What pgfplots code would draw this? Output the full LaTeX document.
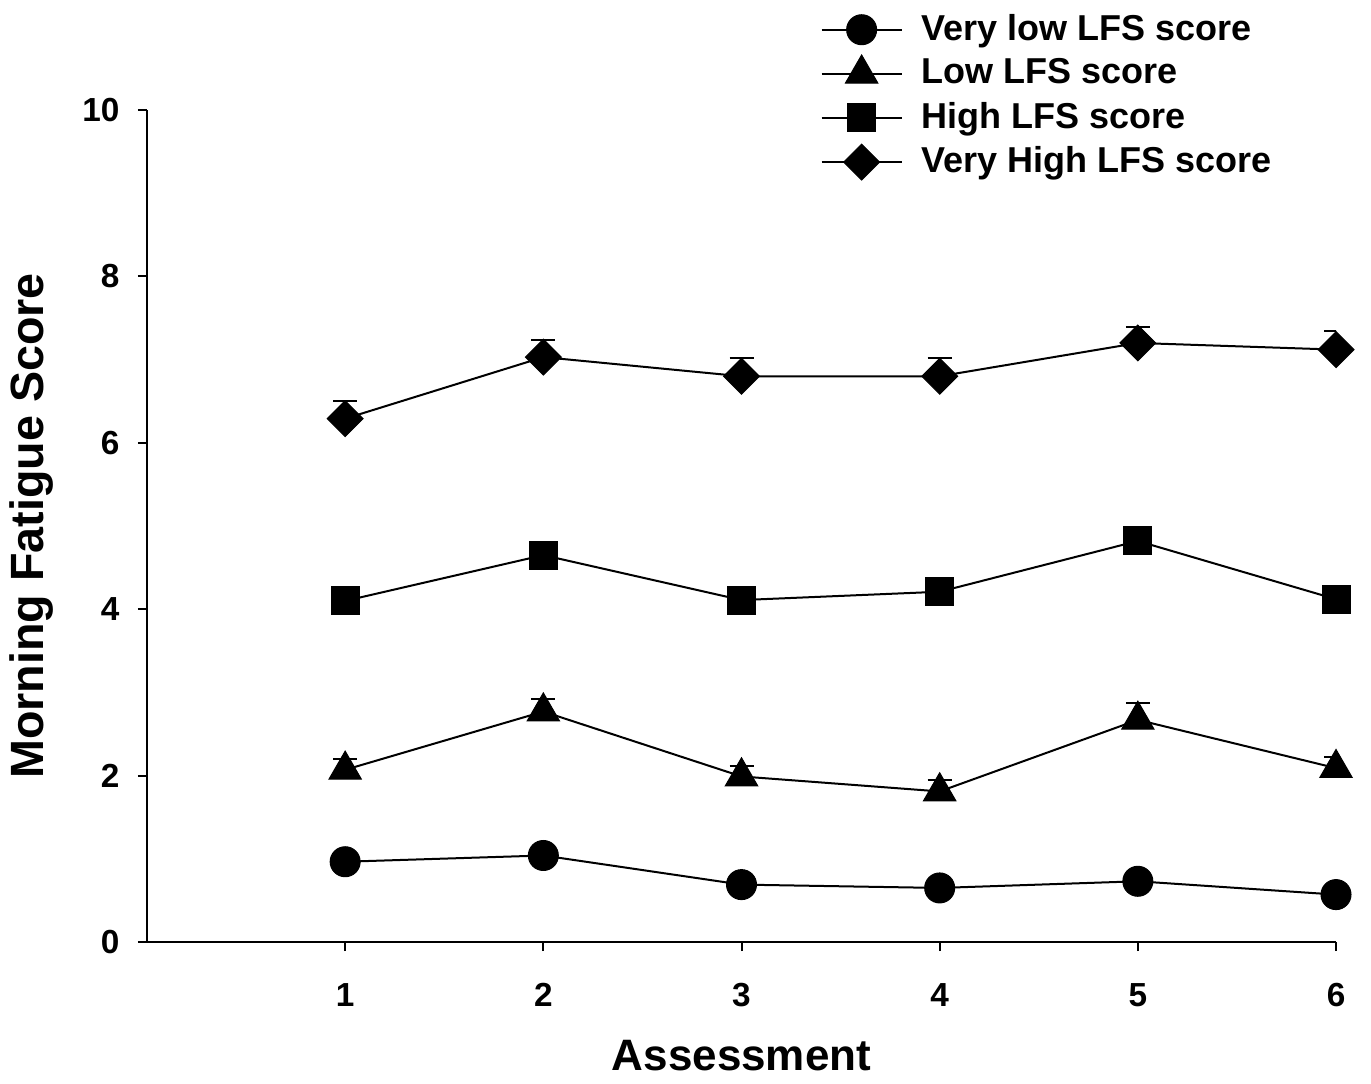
\documentclass[border=0pt]{standalone}
\usepackage{pgfplots}
\pgfplotsset{compat=1.18}
\usepackage{pgfplotstable}
\usepackage{fontspec}
\setmainfont{Liberation Sans}

\pgfplotstableread{
x y e
1 0.965 0.10
2 1.04 0.10
3 0.69 0.10
4 0.65 0.10
5 0.73 0.10
6 0.57 0.10
}\verylow
\pgfplotstableread{
x y e
1 2.07 0.13
2 2.77 0.15
3 1.99 0.12
4 1.81 0.14
5 2.67 0.20
6 2.09 0.13
}\low
\pgfplotstableread{
x y e
1 4.10 0.12
2 4.65 0.12
3 4.11 0.12
4 4.21 0.12
5 4.82 0.12
6 4.12 0.12
}\high
\pgfplotstableread{
x y e
1 6.29 0.21
2 7.03 0.20
3 6.80 0.22
4 6.80 0.22
5 7.20 0.19
6 7.12 0.22
}\veryhigh

\begin{document}
\begin{tikzpicture}
\path[use as bounding box] (-44.1pt,-42.3pt) rectangle (367.2pt,282.6pt);
\begin{axis}[
  at={(0,0)}, anchor=south west,
  scale only axis,
  width=356.7pt, height=249.6pt,
  xmin=0, xmax=6, ymin=0, ymax=10,
  axis x line*=bottom, axis y line*=left,
  axis line style={line width=0.6pt},
  xtick={1,2,3,4,5,6}, ytick={0,2,4,6,8,10},
  minor tick num=0,
  tick align=outside, tick style={line width=0.6pt, black},
  major tick length=2.7pt,
  /pgf/number format/assume math mode=true,
  tick label style={font=\fontsize{10}{12}\selectfont\bfseries},
  yticklabel style={anchor=east, inner sep=0pt, xshift=-5.4pt},
  xticklabel style={anchor=north, inner sep=0pt, yshift=-9.6pt},
  every axis y label/.style={at={(axis description cs:-0.0967,0.5)}, rotate=90, anchor=center, font=\fontsize{14}{16}\selectfont\bfseries},
  every axis x label/.style={at={(axis description cs:0.5,-0.137)}, anchor=center, font=\fontsize{13.2}{15}\selectfont\bfseries},
  xlabel={Assessment},
  ylabel={Morning Fatigue Score},
  legend style={draw=none, fill=none, at={(rel axis cs:0.566,1.124)}, anchor=north west, inner sep=0pt,
    font=\fontsize{10.8}{13}\selectfont\bfseries, row sep=0pt,
    cells={anchor=west}},
  legend cell align=left,
  legend image code/.code={\draw[mark repeat=2,mark phase=2] plot coordinates {(0pt,0pt) (12pt,0pt) (24pt,0pt)};
    \path (27.6pt,0pt);},
  error bars/error bar style={line width=0.6pt, black},
  error bars/error mark options={rotate=90, mark size=3.6pt, line width=0.6pt, black},
]
\addplot[black, line width=0.6pt, mark=*, mark size=4.5pt, mark options={fill=black, draw=black, line width=0.3pt},
  error bars/.cd, y dir=plus, y explicit] table[x=x, y=y, y error=e] {\verylow};
\addlegendentry{Very low LFS score}
\addplot[black, line width=0.6pt, mark=triangle*, mark size=5.6pt, mark options={fill=black, draw=black, line width=0.3pt},
  error bars/.cd, y dir=plus, y explicit] table[x=x, y=y, y error=e] {\low};
\addlegendentry{Low LFS score}
\addplot[black, line width=0.6pt, mark=square*, mark size=4.2pt, mark options={fill=black, draw=black, line width=0.3pt},
  error bars/.cd, y dir=plus, y explicit] table[x=x, y=y, y error=e] {\high};
\addlegendentry{High LFS score}
\addplot[black, line width=0.6pt, mark=square*, mark size=3.8pt, mark options={fill=black, draw=black, line width=0.3pt, rotate=45},
  error bars/.cd, y dir=plus, y explicit] table[x=x, y=y, y error=e] {\veryhigh};
\addlegendentry{Very High LFS score}
\end{axis}
\end{tikzpicture}
\end{document}
